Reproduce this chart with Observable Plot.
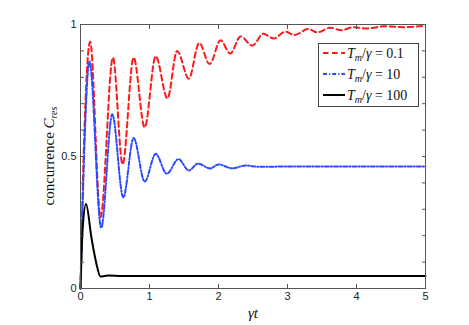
<!DOCTYPE html>
<html><head><meta charset="utf-8">
<script src="https://cdn.jsdelivr.net/npm/d3@7"></script>
<script src="https://cdn.jsdelivr.net/npm/@observablehq/plot@0.6"></script>
<style>body{margin:0;background:#fff}</style>
</head><body><div id="chart"></div>
<script>
// Series: T_m/gamma = 0.1 (red dashed)
const tRed = [0, 0.04, 0.14, 0.29, 0.47, 0.61, 0.77, 0.93, 1.09, 1.26, 1.40, 1.57, 1.72, 1.87, 2.03, 2.17, 2.32, 2.49, 2.65, 2.80, 2.97, 3.10, 3.30, 3.43, 3.62, 3.78, 3.95, 4.15, 4.40, 4.70, 5.00];
const cRed = [0, 0.45, 0.935, 0.27, 0.875, 0.47, 0.875, 0.61, 0.88, 0.72, 0.90, 0.795, 0.93, 0.85, 0.94, 0.89, 0.955, 0.92, 0.965, 0.947, 0.973, 0.96, 0.983, 0.97, 0.988, 0.978, 0.99, 0.985, 0.993, 0.99, 0.996];
// Series: T_m/gamma = 10 (blue dash-dot)
const tBlue = [0, 0.04, 0.13, 0.30, 0.46, 0.62, 0.77, 0.93, 1.09, 1.25, 1.42, 1.57, 1.70, 1.88, 2.00, 2.20, 2.39, 2.60, 3.00, 5.00];
const cBlue = [0, 0.40, 0.86, 0.23, 0.66, 0.345, 0.57, 0.405, 0.51, 0.435, 0.49, 0.447, 0.473, 0.455, 0.47, 0.455, 0.466, 0.461, 0.462, 0.462];
// Series: T_m/gamma = 100 (black solid)
const tBlack = [0, 0.03, 0.08, 0.16, 0.23, 0.29, 0.40, 0.60, 5.00];
const cBlack = [0, 0.22, 0.32, 0.19, 0.095, 0.045, 0.049, 0.047, 0.047];

const legendValues = ["0.1", "10", "100"];
const xTicks = [0, 1, 2, 3, 4, 5];
const yTicks = [0, 0.1, 0.2, 0.3, 0.4, 0.5, 0.6, 0.7, 0.8, 0.9, 1];
const yLabels = [0, 0.5, 1];

const toRows = (ts, cs) => ts.map((t, i) => ({t, c: cs[i]}));
const red = toRows(tRed, cRed);
const blue = toRows(tBlue, cBlue);
const black = toRows(tBlack, cBlack);

const colors = ["#ff1a1a", "#2a4bff", "#000000"];
const dashes = ["5.5,3.5", "4,2,1.2,2", null];

const axisColor = "#555";
const plot = Plot.plot({
  width: 469, height: 325,
  marginLeft: 80, marginRight: 44, marginTop: 24, marginBottom: 37,
  x: {domain: [0, 5]},
  y: {domain: [0, 1]},
  style: {fontFamily: "Liberation Sans, Arial, sans-serif", fontSize: "11px", background: "white", color: "#222"},
  marks: [
    Plot.line(red, {x: "t", y: "c", stroke: colors[0], strokeWidth: 2, strokeDasharray: dashes[0], curve: "monotone-x"}),
    Plot.line(blue, {x: "t", y: "c", stroke: colors[1], strokeWidth: 2, strokeDasharray: dashes[1], curve: "monotone-x"}),
    Plot.line(black, {x: "t", y: "c", stroke: colors[2], strokeWidth: 2, curve: "monotone-x"}),
    Plot.frame({stroke: axisColor}),
    Plot.axisX(xTicks, {anchor: "bottom", tickSize: -4, tickPadding: 8, stroke: axisColor, label: null, tickFormat: d => String(d)}),
    Plot.axisX(xTicks, {anchor: "top", tickSize: -4, stroke: axisColor, label: null, tickFormat: () => ""}),
    Plot.axisY(yTicks, {anchor: "left", tickSize: -4, stroke: axisColor, label: null, tickFormat: () => ""}),
    Plot.axisY(yLabels, {anchor: "left", tickSize: 0, tickPadding: 4, label: null, tickFormat: d => String(d)}),
    Plot.axisY(yTicks, {anchor: "right", tickSize: -4, stroke: axisColor, label: null, tickFormat: () => ""})
  ]
});

const svg = d3.select(plot);
const serif = "Liberation Serif, Times New Roman, serif";

// y-axis label
const yl = svg.append("text")
  .attr("transform", "translate(54,156) rotate(-90)")
  .attr("text-anchor", "middle")
  .attr("font-family", serif).attr("font-size", 15).attr("fill", "#111");
yl.append("tspan").text("concurrence ");
yl.append("tspan").attr("font-style", "italic").text("C");
yl.append("tspan").attr("font-style", "italic").attr("font-size", 10).attr("dy", 3).text("res");

// x-axis label
svg.append("text")
  .attr("x", 253).attr("y", 318)
  .attr("text-anchor", "middle")
  .attr("font-family", serif).attr("font-size", 15).attr("font-style", "italic").attr("fill", "#111")
  .text("γt");

// legend
const lg = svg.append("g");
lg.append("rect").attr("x", 318.5).attr("y", 43.5).attr("width", 100).attr("height", 63)
  .attr("fill", "white").attr("stroke", "#444").attr("stroke-width", 1);
const rowY = [53, 74, 95];
legendValues.forEach((v, i) => {
  const y = rowY[i];
  lg.append("line").attr("x1", 323).attr("x2", 345).attr("y1", y).attr("y2", y)
    .attr("stroke", colors[i]).attr("stroke-width", 2)
    .attr("stroke-dasharray", dashes[i]);
  const t = lg.append("text").attr("x", 347).attr("y", y + 5)
    .attr("text-anchor", "start")
    .attr("font-family", serif).attr("font-size", 14).attr("fill", "#111");
  t.append("tspan").attr("font-style", "italic").text("T");
  t.append("tspan").attr("font-style", "italic").attr("font-size", 10).attr("dy", 3).text("m");
  t.append("tspan").attr("dy", -3).text("/");
  t.append("tspan").attr("font-style", "italic").text("γ");
  t.append("tspan").text(" = " + v);
});

document.getElementById("chart").appendChild(plot);
</script>
</body></html>
